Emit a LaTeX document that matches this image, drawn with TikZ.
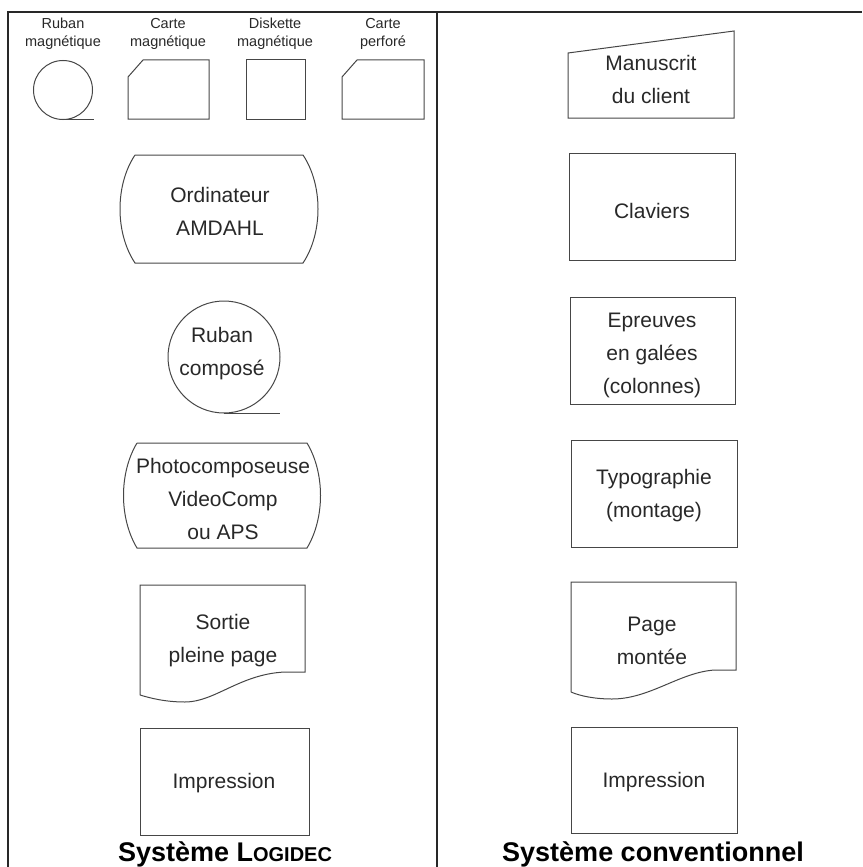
\documentclass[tikz,border=0pt]{standalone}
\usepackage{fontspec}
\setmainfont{Liberation Sans}
\usepackage{xcolor}
\usetikzlibrary{positioning, calc}
\definecolor{inkgray}{RGB}{40, 40, 40}
\definecolor{linegray}{RGB}{70, 70, 70}
\tikzset{
  frame/.style={line width=2pt, inkgray},
  symb/.style={line width=1pt, linegray},
  txt/.style={align=center, inner sep=0pt, text=inkgray, font=\fontsize{21}{33}\selectfont},
  smalltxt/.style={align=center, inner sep=0pt, text=inkgray, font=\fontsize{14.5}{18}\selectfont},
  titletxt/.style={inner sep=0pt, font=\bfseries\fontsize{27}{30}\selectfont}
}

\begin{document}
\begin{tikzpicture}[x=1pt, y=-1pt]
    \useasboundingbox (0,0) rectangle (862,867);
    % cadre
    \draw[frame] (8,867) -- (8,12) -- (862,12);
    \draw[frame] (437,12) -- (437,867);

    % legende des supports
    \node[smalltxt] (lruban) at (63,34) {Ruban\\magnétique};
    \node[smalltxt] (lcartem) at (168,34) {Carte\\magnétique};
    \node[smalltxt] (ldisk) at (275,34) {Diskette\\magnétique};
    \node[smalltxt] (lcartep) at (383,34) {Carte\\perforé};
    \draw[symb] (63,90) circle[radius=29.5pt];
    \draw[symb] (63,119.5) -- (94,119.5);
    \draw[symb] (128,77) -- (143,60) -- (209,60) -- (209,119) -- (128,119) -- cycle;
    \draw[symb] (246,60) rectangle (305,119);
    \draw[symb] (342,77) -- (357,60) -- (424,60) -- (424,119) -- (342,119) -- cycle;

    % systeme Logidec
    \draw[symb] (135,155) -- (303,155) .. controls (323,185) and (323,233) .. (303,263)
      -- (135,263) .. controls (115,233) and (115,185) .. (135,155);
    \node[txt] (ordi) at (220,211) {Ordinateur\\AMDAHL};
    \draw[symb] (224,357) circle[radius=56pt];
    \draw[symb] (224,413) -- (280,413);
    \node[txt] (rubanc) at (222,354) {Ruban\\composé};
    \draw[symb] (137,443) -- (307,443) .. controls (325,473) and (325,518) .. (307,548)
      -- (137,548) .. controls (119,518) and (119,473) .. (137,443);
    \node[txt] (photo) at (223,499) {Photocomposeuse\\VideoComp\\ou APS};
    \draw[symb] (140,695) -- (140,585) -- (305,585) -- (305,672) -- (285,672)
      .. controls (240,674) and (215,702) .. (185,702) .. controls (165,702) and (150,698) .. (140,695);
    \node[txt] (sortie) at (223,641) {Sortie\\pleine page};
    \draw[symb] (140,728) rectangle (309,835);
    \node[txt] (impl) at (224,783) {Impression};
    \node[titletxt] (titl) at (225,854) {Système L{\fontsize{20}{22}\selectfont OGIDEC}};

    % systeme conventionnel
    \draw[symb] (568,53) -- (734,31) -- (734,118) -- (568,118) -- cycle;
    \node[txt] (manus) at (651,79) {Manuscrit\\du client};
    \draw[symb] (569,153) rectangle (735,260);
    \node[txt] (clav) at (652,211) {Claviers};
    \draw[symb] (570,297) rectangle (735,404);
    \node[txt] (epreuves) at (652,355) {Epreuves\\en galées\\(colonnes)};
    \draw[symb] (571,440) rectangle (737,547);
    \node[txt] (typo) at (654,496) {Typographie\\(montage)};
    \draw[symb] (571,692) -- (571,582) -- (736,582) -- (736,670) -- (715,670)
      .. controls (680,672) and (650,699) .. (612,699) .. controls (595,699) and (580,696) .. (571,692);
    \node[txt] (page) at (652,641) {Page\\montée};
    \draw[symb] (571,727) rectangle (737,833);
    \node[txt] (impr) at (654,782) {Impression};
    \node[titletxt] (titr) at (653,854) {Système conventionnel};
\end{tikzpicture}
\end{document}
